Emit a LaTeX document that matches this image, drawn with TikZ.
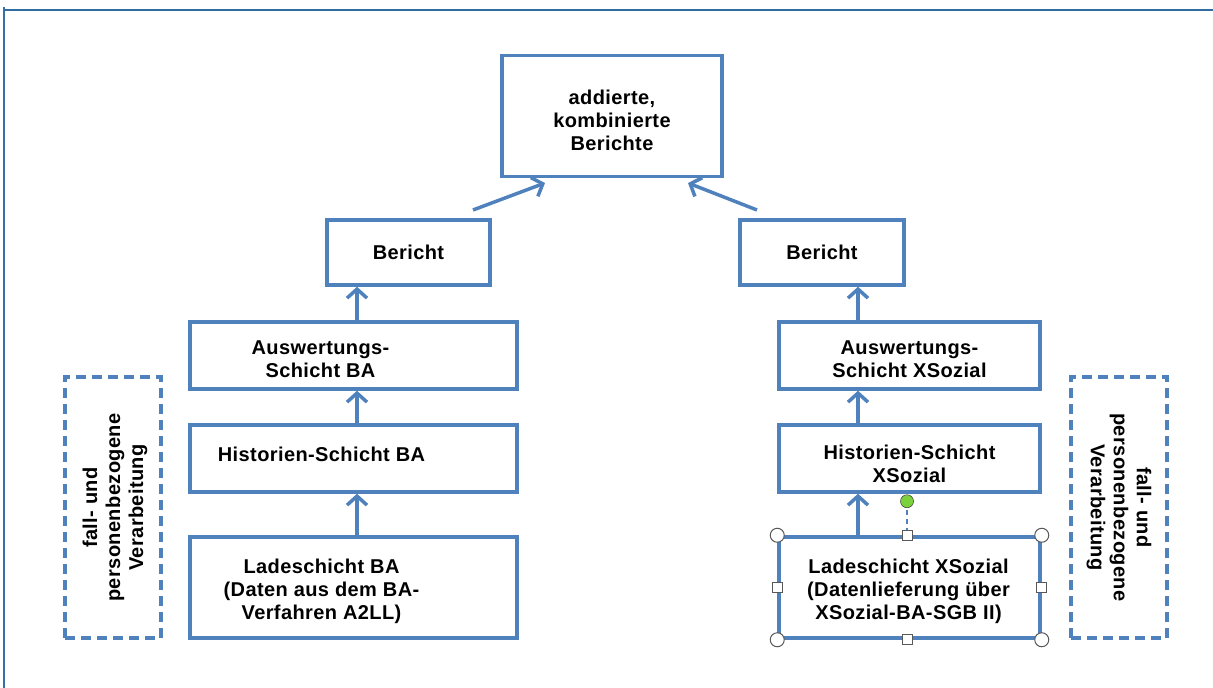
\documentclass[tikz,border=0pt]{standalone}
\usepackage{fontspec}
\setmainfont{Liberation Sans}
\newfontfamily\labfont{Liberation Sans}[LetterSpace=2]
\usetikzlibrary{arrows.meta,calc}
\definecolor{boxblue}{HTML}{4F81BD}
\definecolor{frameblue}{HTML}{2E6DA4}
\definecolor{handlegreen}{HTML}{7CD23B}
\tikzset{
  box/.style={draw=boxblue, line width=3.5pt, fill=white, inner sep=0pt},
  txt/.style={align=center, inner sep=0pt, font=\labfont\fontsize{20}{23}\selectfont\bfseries},
  dbox/.style={draw=boxblue, line width=3.5pt, dash pattern=on 10pt off 6pt, inner sep=0pt,
    minimum width=96pt, minimum height=261pt},
  vlabel/.style={align=center, font=\labfont\fontsize{20}{23}\selectfont\bfseries},
  arr/.style={draw=boxblue, line width=3.5pt, -{Straight Barb[length=9pt,width=20pt,line width=3.5pt]}},
  rhandle/.style={circle, draw=gray!70!black, fill=white, line width=1pt, minimum size=14pt, inner sep=0pt},
  shandle/.style={rectangle, draw=gray!70!black, fill=white, line width=1pt, minimum size=10pt, inner sep=0pt},
  ghandle/.style={circle, draw=gray!60!black, fill=handlegreen, line width=0.6pt, minimum size=13pt, inner sep=0pt}
}
\begin{document}
\begin{tikzpicture}[x=1pt,y=-1pt]
\useasboundingbox (0,0) rectangle (1213,688);
% frame
\coordinate (fTL) at (3.5,10);
\coordinate (fTR) at (1213,10);
\coordinate (fTL2) at (3.5,7);
\coordinate (fBL) at (3.5,688);
\draw[frameblue, line width=1.5pt] (fTL) -- (fTR);
\draw[frameblue!80!boxblue, line width=2pt] (fTL2) -- (fBL);

% boxes
\node[box, minimum width=220pt, minimum height=121pt] (top) at (612,116) {};
\node[box, minimum width=163pt, minimum height=65pt] (berL) at (408.5,252.5) {};
\node[box, minimum width=164pt, minimum height=65pt] (berR) at (822,252.5) {};
\node[box, minimum width=327pt, minimum height=67pt] (ausL) at (353.5,355.5) {};
\node[box, minimum width=327pt, minimum height=67pt] (hisL) at (353.5,458.5) {};
\node[box, minimum width=327pt, minimum height=101pt] (ladL) at (353.5,587.5) {};
\node[box, minimum width=261pt, minimum height=67pt] (ausR) at (909.5,355.5) {};
\node[box, minimum width=261pt, minimum height=67pt] (hisR) at (909.5,458.5) {};
\node[box, minimum width=261pt, minimum height=101pt] (ladR) at (909.5,587.5) {};

% texts
\node[txt] (topT) at ($(top.center)+(0,4)$) {addierte,\\kombinierte\\Berichte};
\node[txt] (berLT) at ($(berL.center)+(0,0)$) {Bericht};
\node[txt] (berRT) at ($(berR.center)+(0,0)$) {Bericht};
\node[txt] (ausLT) at ($(ausL.center)+(-33,4)$) {Auswertungs-\\Schicht BA};
\node[txt] (hisLT) at ($(hisL.center)+(-32,-4)$) {Historien-Schicht BA};
\node[txt] (ladLT) at ($(ladL.center)+(-32,4)$) {Ladeschicht BA\\(Daten aus dem BA-\\Verfahren A2LL)};
\node[txt] (ausRT) at ($(ausR.center)+(0,4)$) {Auswertungs-\\Schicht XSozial};
\node[txt] (hisRT) at ($(hisR.center)+(0,5)$) {Historien-Schicht\\XSozial};
\node[txt] (ladRT) at ($(ladR.center)+(-1,4)$) {Ladeschicht XSozial\\(Datenlieferung über\\XSozial-BA-SGB II)};

% dashed side boxes
\node[dbox] (dashL) at (113,507.5) {};
\node[vlabel, rotate=90] (labL) at ($(dashL.center)+(2,0)$) {fall- und\\personenbezogene\\Verarbeitung};
\node[dbox] (dashR) at (1119,507.5) {};
\node[vlabel, rotate=-90] (labR) at (dashR.center) {fall- und\\personenbezogene\\Verarbeitung};

% vertical arrows
\coordinate (xL) at (357,0);
\coordinate (xR) at (858,0);
\draw[arr] (ladL.north -| xL) -- (hisL.south -| xL);
\draw[arr] (hisL.north -| xL) -- (ausL.south -| xL);
\draw[arr] (ausL.north -| xL) -- (berL.south -| xL);
\draw[arr] (ladR.north -| xR) -- (hisR.south -| xR);
\draw[arr] (hisR.north -| xR) -- (ausR.south -| xR);
\draw[arr] (ausR.north -| xR) -- (berR.south -| xR);

% diagonal arrows
\coordinate (dLs) at (473,210);
\coordinate (dLe) at (545,183);
\coordinate (dRs) at (757,210);
\coordinate (dRe) at (688,183);
\draw[arr] (dLs) -- (dLe);
\draw[arr] (dRs) -- (dRe);

% selection handles on ladR
\coordinate (rot) at ($(ladR.north)+(-2.5,-34)$);
\draw[boxblue, line width=2pt, dash pattern=on 5pt off 4pt] (rot) -- ($(ladR.north)+(-2.5,0)$);
\node[ghandle] (hg) at (rot) {};
\node[rhandle] (h1) at (ladR.north west) {};
\node[rhandle] (h2) at (ladR.north east) {};
\node[rhandle] (h3) at (ladR.south west) {};
\node[rhandle] (h4) at (ladR.south east) {};
\node[shandle] (h5) at ($(ladR.north)+(-2.5,0)$) {};
\node[shandle] (h6) at ($(ladR.south)+(-2.5,0)$) {};
\node[shandle] (h7) at (ladR.west) {};
\node[shandle] (h8) at (ladR.east) {};
\end{tikzpicture}
\end{document}
